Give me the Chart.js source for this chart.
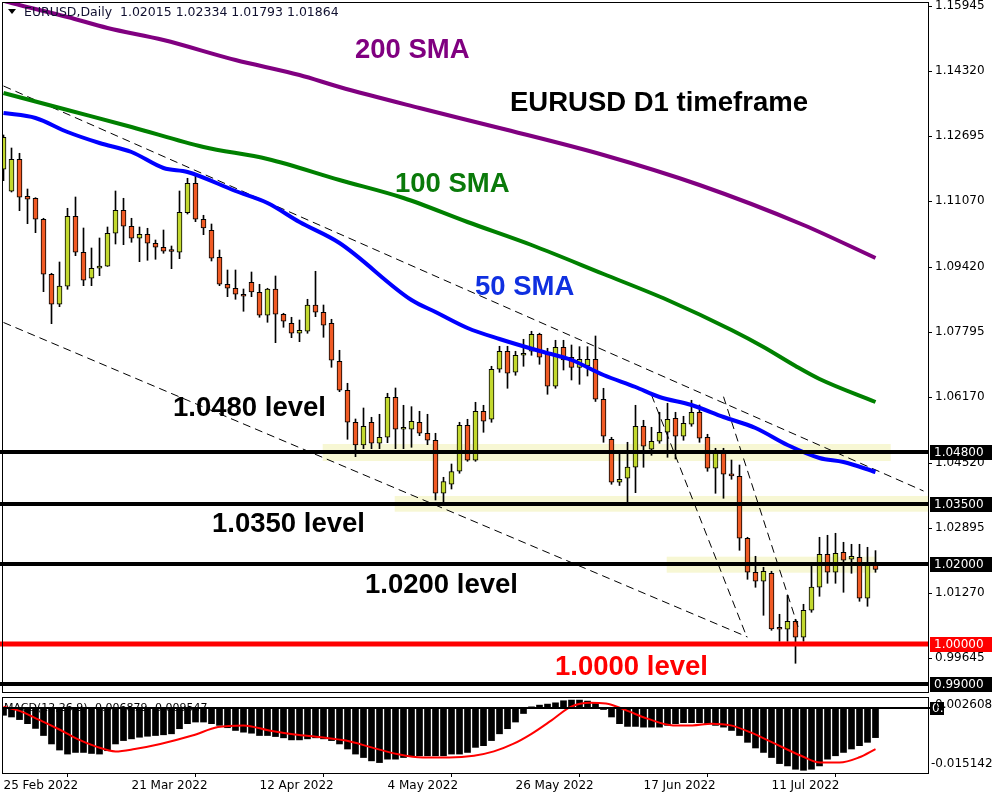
<!DOCTYPE html>
<html>
<head>
<meta charset="utf-8">
<script src="https://cdn.jsdelivr.net/npm/chart.js@4.4.1/dist/chart.umd.min.js"></script>
<style>
  body { margin: 0; background: #fff; }
  #wrap { position: relative; width: 1000px; height: 800px; background: #fff; }
  canvas { position: absolute; left: 0; }
</style>
</head>
<body>
<div id="wrap">
  <canvas id="main" width="1000" height="694" style="top:0"></canvas>
  <canvas id="macd" width="1000" height="106" style="top:694px"></canvas>
</div>
<script>
// Daily candles, bar 0 = 25 Feb 2022
const opens = [1.11868,1.11318,1.12118,1.11193,1.11143,1.10618,1.09243,1.08493,1.08943,1.10693,
  1.09793,1.09143,1.09393,1.09443,1.10268,1.10843,1.10443,1.10143,1.10243,1.10018,
  1.09918,1.09818,1.09793,1.10783,1.11518,1.10618,1.10343,1.09668,1.08993,1.08893,
  1.08743,1.09043,1.08793,1.08218,1.08875,1.08243,1.08018,1.07768,1.07818,1.08475,
  1.08293,1.08018,1.07068,1.06343,1.05543,1.04975,1.05543,1.05018,1.05168,1.06168,
  1.05368,1.05368,1.05543,1.05268,1.05093,1.03768,1.03993,1.04318,1.05468,1.04593,
  1.05818,1.05618,1.06868,1.07318,1.06793,1.07218,1.07318,1.07743,1.07243,1.06443,
  1.07418,1.07168,1.06913,1.06950,1.07118,1.06118,1.05118,1.04043,1.04143,1.04418,
  1.05443,1.04868,1.05068,1.05293,1.05643,1.05193,1.05493,1.05793,1.05168,1.04393,
  1.04768,1.04213,1.04193,1.02643,1.01793,1.01568,1.01768,1.00375,1.00368,1.00568,
  1.00168,1.00843,1.01418,1.02243,1.01793,1.02293,1.02118,1.02168,1.01143,1.02015];
const highs = [1.12725,1.12400,1.12268,1.11375,1.11158,1.10643,1.09268,1.09550,1.10893,1.11175,
  1.10400,1.09900,1.10150,1.10425,1.11325,1.11143,1.10643,1.10425,1.10393,1.10100,
  1.10350,1.09950,1.11325,1.11643,1.11700,1.10718,1.10500,1.09850,1.09350,1.09350,
  1.08875,1.09300,1.08993,1.08893,1.09200,1.08268,1.08168,1.08100,1.08618,1.09318,
  1.08475,1.08118,1.07343,1.06518,1.05625,1.05900,1.05668,1.05743,1.06268,1.06400,
  1.05968,1.05933,1.05818,1.05743,1.05268,1.04168,1.04500,1.05543,1.05618,1.06043,
  1.05968,1.06943,1.07443,1.07443,1.07318,1.07618,1.07818,1.07770,1.07393,1.07593,
  1.07593,1.07475,1.07433,1.07433,1.07700,1.06393,1.05168,1.04768,1.05043,1.05968,
  1.05593,1.05418,1.05793,1.06018,1.05793,1.05693,1.06093,1.05975,1.05243,1.04893,
  1.04893,1.04600,1.04475,1.02668,1.02193,1.01918,1.01818,1.00743,1.01218,1.00618,
  1.00993,1.01968,1.02668,1.02718,1.02768,1.02543,1.02493,1.02493,1.02418,1.02334];
const lows = [1.11583,1.11300,1.10833,1.10508,1.10283,1.08808,1.08008,1.08433,1.08868,1.09708,
  1.08958,1.08958,1.09208,1.09440,1.10000,1.09983,1.10043,1.09558,1.09593,1.09618,
  1.09768,1.09383,1.09633,1.10750,1.10558,1.10233,1.09575,1.08958,1.08683,1.08618,
  1.08318,1.08683,1.08168,1.08043,1.07533,1.07918,1.07658,1.07558,1.07768,1.08183,
  1.07668,1.06918,1.06308,1.05118,1.04683,1.04883,1.04883,1.04883,1.05033,1.04883,
  1.04883,1.04918,1.05208,1.04983,1.03600,1.03525,1.03875,1.04268,1.04568,1.04568,
  1.05293,1.05543,1.06793,1.06393,1.06718,1.06943,1.07218,1.06993,1.06243,1.06393,
  1.06850,1.06600,1.06493,1.06700,1.06063,1.05043,1.03993,1.03963,1.03543,1.03783,
  1.04418,1.04718,1.05018,1.04668,1.04625,1.05093,1.05443,1.05043,1.04318,1.03768,
  1.03643,1.04118,1.02343,1.01618,1.01418,1.00718,1.00343,1.00068,1.00068,0.99518,
  1.00068,1.00793,1.01193,1.01518,1.01518,1.01293,1.01768,1.01068,1.00943,1.01793];
const closes = [1.12668,1.12118,1.11168,1.11118,1.10618,1.09243,1.08493,1.08950,1.10693,1.09793,
  1.09093,1.09393,1.09450,1.10268,1.10843,1.10443,1.10143,1.10243,1.10018,1.09918,
  1.09818,1.09813,1.10793,1.11518,1.10618,1.10400,1.09643,1.08993,1.08893,1.08743,
  1.08693,1.08800,1.08218,1.08875,1.08243,1.08068,1.07768,1.07843,1.08475,1.08293,
  1.07968,1.07093,1.06343,1.05543,1.04975,1.05443,1.05018,1.05168,1.06168,1.05368,
  1.05418,1.05568,1.05268,1.05093,1.03768,1.04063,1.04313,1.05468,1.04593,1.05818,
  1.05568,1.06868,1.07318,1.06768,1.07218,1.07268,1.07743,1.07168,1.06443,1.07418,
  1.07100,1.06913,1.07118,1.07118,1.06118,1.05193,1.04043,1.04118,1.04425,1.05443,
  1.04943,1.05068,1.05293,1.05618,1.05193,1.05518,1.05793,1.05143,1.04393,1.04768,
  1.04243,1.04205,1.02643,1.01793,1.01568,1.01818,1.00375,1.00368,1.00568,1.00168,
  1.00843,1.01425,1.02243,1.01793,1.02268,1.02093,1.02193,1.01143,1.01968,1.01864];

// moving averages (bar index, price)
const sma200X = [0, 1, 8, 13, 20, 29, 37, 42, 52, 62, 75, 87, 100, 109];
const sma200Y = [1.1608, 1.16025, 1.15675, 1.1540, 1.1510, 1.1460, 1.14225, 1.13925, 1.1340, 1.1290, 1.12225, 1.11475, 1.10475, 1.0965];
const sma100X = [0, 8, 16, 25, 33, 42, 50, 58, 66, 75, 83, 91, 95, 99, 102, 109];
const sma100Y = [1.13775, 1.1335, 1.12925, 1.12425, 1.12125, 1.1160, 1.1115, 1.1055, 1.09975, 1.0925, 1.0860, 1.0785, 1.07425, 1.0695, 1.06625, 1.0605];
const sma50X = [0, 4, 8, 12, 16, 20, 23, 29, 33, 37, 42, 51, 54, 58, 62, 67, 71, 75, 79, 82, 86, 90, 94, 98, 102, 105, 109];
const sma50Y = [1.13275, 1.1315, 1.128, 1.12525, 1.123, 1.119, 1.118, 1.11325, 1.11025, 1.1055, 1.10025, 1.086, 1.083, 1.079, 1.07625, 1.07325, 1.071, 1.06725, 1.06425, 1.06175, 1.05975, 1.05675, 1.054, 1.04975, 1.0465, 1.0455, 1.043];

// dashed trend lines: [bar, price, bar, price]
const trendLines = [
  [0, 1.1395, 115, 1.03825],
  [0, 1.08038, 93, 1.00175],
  [81, 1.06225, 92.9, 1.00183],
  [90, 1.06183, 99.45, 1.0035]
];

// horizontal levels and shaded zones
const levels = [1.048, 1.035, 1.02, 1.0, 0.99];
const levelColors = ['#000', '#000', '#000', '#ff0000', '#000'];
const zoneFrom = [39.9, 48.9, 82.9];
const zoneTo = [110.9, 116, 109.1];
const zoneLow = [1.04575, 1.03308, 1.01783];
const zoneHigh = [1.0500, 1.03700, 1.02183];

// axes
const priceTicks = [1.15945, 1.14320, 1.12695, 1.11070, 1.09420, 1.07795, 1.06170, 1.04520, 1.02895, 1.01270, 0.99645];
const dateTicks = ['25 Feb 2022', '21 Mar 2022', '12 Apr 2022', '4 May 2022', '26 May 2022', '17 Jun 2022', '11 Jul 2022'];
const barsPerDateTick = 16;

// MACD(12,26,9)
const macdHist = [-0.00166,-0.00206,-0.00267,-0.00362,-0.00473,-0.00639,-0.00836,-0.00978,-0.01072,-0.01034,
  -0.01034,-0.01058,-0.01072,-0.00994,-0.00836,-0.00757,-0.00717,-0.00679,-0.00656,-0.00639,
  -0.00622,-0.00599,-0.00480,-0.00362,-0.00324,-0.00324,-0.00362,-0.00402,-0.00457,-0.00521,
  -0.00561,-0.00585,-0.00639,-0.00639,-0.00663,-0.00693,-0.00741,-0.00741,-0.00717,-0.00693,
  -0.00717,-0.00757,-0.00836,-0.00954,-0.01072,-0.01153,-0.01231,-0.01271,-0.01191,-0.01191,
  -0.01153,-0.01129,-0.01112,-0.01112,-0.01112,-0.01112,-0.01072,-0.01072,-0.01034,-0.00916,
  -0.00876,-0.00757,-0.00599,-0.00480,-0.00324,-0.00125,0.00031,0.00071,0.00095,0.00125,
  0.00173,0.00189,0.00189,0.00166,0.00111,-0.00031,-0.00206,-0.00362,-0.00426,-0.00426,
  -0.00443,-0.00443,-0.00443,-0.00402,-0.00362,-0.00339,-0.00339,-0.00339,-0.00362,-0.00402,
  -0.00443,-0.00521,-0.00639,-0.00798,-0.00930,-0.01034,-0.01153,-0.01295,-0.01349,-0.01427,
  -0.01451,-0.01427,-0.01349,-0.01191,-0.01112,-0.01034,-0.00954,-0.00876,-0.00798,-0.006879];
const signalX = [0, 2, 4.4, 6.8, 9.2, 11.6, 14, 16.4, 19.6, 23.6, 26.8, 30, 33.2, 36.4, 39.7, 42.8, 46, 49.2, 52.4, 55.7, 58.8, 61.3, 63.7, 66, 68.5, 70.9, 73.3, 75.3, 78, 80.5, 83.7, 86.1, 88.5, 90.9, 93.3, 96.5, 99.7, 102.1, 104.5, 106.9, 109];
const signalY = [0.00031, -0.00063, -0.00268, -0.00481, -0.00718, -0.00899, -0.0101, -0.00954, -0.00836, -0.00639, -0.00442, -0.00402, -0.00521, -0.00615, -0.00679, -0.00757, -0.00916, -0.01072, -0.01153, -0.01153, -0.01112, -0.0101, -0.00836, -0.00599, -0.00284, 0.00031, 0.00125, 0.00111, -0.00063, -0.00245, -0.00402, -0.00402, -0.00363, -0.00402, -0.0056, -0.00836, -0.01112, -0.0127, -0.0127, -0.01153, -0.009547];
const macdTop = 0.002608;
const macdBottom = -0.015142;

// chart geometry: 8 px per bar, bar 0 centred at x=3.5
const xMin = -0.1875;
const xMax = xMin + 926 / 8;
const upColor = '#c2d82e';
const downColor = '#f05a24';
const zoneColor = '#f7f7d4';
const axisFont = { family: 'DejaVu Sans', size: 12 };

const barIdx = opens.map((_, i) => i);
const pts = (xs, ys) => xs.map((x, k) => ({ x: x, y: ys[k] }));

const notes = [
  { text: '200 SMA', x: 355, y: 50, color: '#800080' },
  { text: 'EURUSD D1 timeframe', x: 510, y: 103, color: '#000' },
  { text: '100 SMA', x: 395, y: 184, color: '#0a7a0a' },
  { text: '50 SMA', x: 475, y: 287, color: '#1030e0' },
  { text: '1.0480 level', x: 173, y: 408, color: '#000' },
  { text: '1.0350 level', x: 212, y: 524, color: '#000' },
  { text: '1.0200 level', x: 365, y: 585, color: '#000' },
  { text: '1.0000 level', x: 555, y: 667, color: '#ff0000' }
];

const mainDeco = {
  id: 'mainDeco',
  beforeDatasetsDraw(chart) {
    const { ctx, chartArea: a, scales: { x, y } } = chart;
    ctx.save();
    ctx.fillStyle = zoneColor;
    zoneFrom.forEach((f, k) => {
      const x1 = x.getPixelForValue(f);
      const x2 = Math.min(x.getPixelForValue(zoneTo[k]), a.right);
      const y1 = y.getPixelForValue(zoneHigh[k]);
      const y2 = y.getPixelForValue(zoneLow[k]);
      ctx.fillRect(x1, y1, x2 - x1, y2 - y1);
    });
    ctx.restore();
  },
  afterDatasetsDraw(chart) {
    const { ctx, chartArea: a, scales: { y } } = chart;
    ctx.save();
    levels.forEach((v, k) => {
      const py = Math.round(y.getPixelForValue(v));
      ctx.strokeStyle = levelColors[k];
      ctx.lineWidth = k === 3 ? 5 : 4;
      ctx.beginPath();
      ctx.moveTo(0, py);
      ctx.lineTo(a.right, py);
      ctx.stroke();
    });
    ctx.strokeStyle = '#000';
    ctx.lineWidth = 1;
    ctx.strokeRect(a.left + 0.5, a.top + 0.5, a.right - a.left, a.bottom - a.top);
    ctx.restore();
  },
  afterDraw(chart) {
    const { ctx, chartArea: a, scales: { y } } = chart;
    ctx.save();
    // level tags on the price axis
    ctx.font = '12px "DejaVu Sans"';
    ctx.textBaseline = 'middle';
    levels.forEach((v, k) => {
      const py = Math.round(y.getPixelForValue(v));
      ctx.fillStyle = levelColors[k];
      ctx.fillRect(a.right + 2, py - 7, 62, 15);
      ctx.fillStyle = '#fff';
      ctx.fillText(v.toFixed(5), a.right + 6, py + 1);
    });
    // annotations
    ctx.font = 'bold 27.5px "Liberation Sans"';
    notes.forEach(n => {
      ctx.fillStyle = n.color;
      ctx.fillText(n.text, n.x, n.y);
    });
    // symbol header
    ctx.fillStyle = '#000';
    ctx.beginPath();
    ctx.moveTo(8, 9);
    ctx.lineTo(16, 9);
    ctx.lineTo(12, 14);
    ctx.closePath();
    ctx.fill();
    ctx.font = '12.5px "DejaVu Sans"';
    ctx.fillStyle = '#101030';
    ctx.fillText('EURUSD,Daily  ' + [opens, highs, lows, closes].map(s => s[s.length - 1].toFixed(5)).join(' '), 24, 13);
    ctx.restore();
  }
};

new Chart(document.getElementById('main'), {
  type: 'bar',
  data: {
    datasets: [
      ...[[sma200X, sma200Y, '#800080'], [sma100X, sma100Y, '#008000'], [sma50X, sma50Y, '#0000ff']].map(([xs, ys, c]) => ({
        type: 'line', data: pts(xs, ys), borderColor: c, borderWidth: 4,
        pointRadius: 0, cubicInterpolationMode: 'monotone', order: 0
      })),
      ...trendLines.map(t => ({
        type: 'line', data: [{ x: t[0], y: t[1] }, { x: t[2], y: t[3] }],
        borderColor: '#000', borderWidth: 1, borderDash: [8, 5], pointRadius: 0, order: 1
      })),
      {
        type: 'bar', data: barIdx.map(i => ({ x: i, y: [opens[i], closes[i]] })),
        backgroundColor: barIdx.map(i => closes[i] > opens[i] ? upColor : downColor),
        borderColor: '#000', borderWidth: 1, borderSkipped: false,
        barThickness: 5, minBarLength: 2, grouped: false, order: 2
      },
      {
        type: 'bar', data: barIdx.map(i => ({ x: i, y: [lows[i], highs[i]] })),
        backgroundColor: '#000', barThickness: 1, grouped: false, order: 3
      }
    ]
  },
  options: {
    responsive: false,
    animation: false,
    devicePixelRatio: 1,
    layout: { padding: { left: 2, top: 2, right: 0, bottom: 2 } },
    plugins: { legend: { display: false }, tooltip: { enabled: false } },
    scales: {
      x: { type: 'linear', min: xMin, max: xMax, display: false, offset: false },
      y: {
        type: 'linear', position: 'right', min: 0.988, max: 1.1605,
        afterBuildTicks: s => { s.ticks = priceTicks.map(v => ({ value: v })); },
        afterFit: s => { s.width = 72; s.paddingTop = 0; s.paddingBottom = 0; },
        ticks: { autoSkip: false, color: '#000', font: axisFont, padding: 3, callback: v => Number(v).toFixed(5) },
        grid: { drawOnChartArea: false, color: '#000', tickLength: 4 },
        border: { color: '#000' }
      }
    }
  },
  plugins: [mainDeco]
});

const macdDeco = {
  id: 'macdDeco',
  beforeDatasetsDraw(chart) {
    const { ctx, chartArea: a } = chart;
    ctx.save();
    ctx.font = '11px "DejaVu Sans"';
    ctx.fillStyle = '#000';
    ctx.textBaseline = 'middle';
    ctx.fillText('MACD(12,26,9) ' + macdHist[macdHist.length - 1].toFixed(6) + ' ' + signalY[signalY.length - 1].toFixed(6), a.left + 2, a.top + 11);
    ctx.restore();
  },
  afterDatasetsDraw(chart) {
    const { ctx, chartArea: a, scales: { y } } = chart;
    ctx.save();
    const zy = Math.round(y.getPixelForValue(0));
    ctx.strokeStyle = '#000';
    ctx.lineWidth = 2;
    ctx.beginPath();
    ctx.moveTo(a.left, zy);
    ctx.lineTo(a.right + 4, zy);
    ctx.stroke();
    ctx.lineWidth = 1;
    ctx.strokeRect(a.left + 0.5, a.top + 0.5, a.right - a.left, a.bottom - a.top);
    ctx.restore();
  },
  afterDraw(chart) {
    const { ctx, chartArea: a, scales: { y } } = chart;
    ctx.save();
    ctx.font = '12px "DejaVu Sans"';
    ctx.textBaseline = 'middle';
    const zy = Math.round(y.getPixelForValue(0));
    ctx.fillStyle = '#000';
    ctx.fillRect(a.right + 2, zy - 6, 14, 13);
    ctx.fillStyle = '#fff';
    ctx.fillText('0.00', a.right + 4, zy + 1);
    ctx.fillStyle = '#000';
    ctx.fillText(macdTop.toFixed(6), a.right + 7, a.top + 8);
    ctx.fillText(macdBottom.toFixed(6), a.right + 3, a.bottom - 9);
    ctx.restore();
  }
};

new Chart(document.getElementById('macd'), {
  type: 'bar',
  data: {
    datasets: [
      {
        type: 'line', data: pts(signalX, signalY), borderColor: '#ff0000', borderWidth: 2,
        pointRadius: 0, cubicInterpolationMode: 'monotone', order: 0
      },
      {
        type: 'bar', data: barIdx.map(i => ({ x: i, y: macdHist[i] })),
        backgroundColor: '#000', barThickness: 6, grouped: false, order: 1
      }
    ]
  },
  options: {
    responsive: false,
    animation: false,
    devicePixelRatio: 1,
    layout: { padding: { left: 2, top: 3, right: 0, bottom: 0 } },
    plugins: { legend: { display: false }, tooltip: { enabled: false } },
    scales: {
      x: {
        type: 'linear', position: 'bottom', min: xMin, max: xMax, offset: false,
        afterBuildTicks: s => { s.ticks = dateTicks.map((_, k) => ({ value: k * barsPerDateTick })); },
        afterFit: s => { s.height = 27; s.paddingLeft = 0; s.paddingRight = 0; },
        ticks: { autoSkip: false, maxRotation: 0, align: 'start', color: '#000', font: axisFont, padding: 2,
          callback: v => dateTicks[Math.round(v / barsPerDateTick)] },
        grid: { drawOnChartArea: false, color: '#000', tickLength: 4 },
        border: { color: '#000' }
      },
      y: {
        type: 'linear', position: 'right', min: macdBottom, max: macdTop,
        afterFit: s => { s.width = 72; s.paddingTop = 0; s.paddingBottom = 0; },
        ticks: { display: false },
        grid: { display: false },
        border: { color: '#000' }
      }
    }
  },
  plugins: [macdDeco]
});
</script>
</body>
</html>
